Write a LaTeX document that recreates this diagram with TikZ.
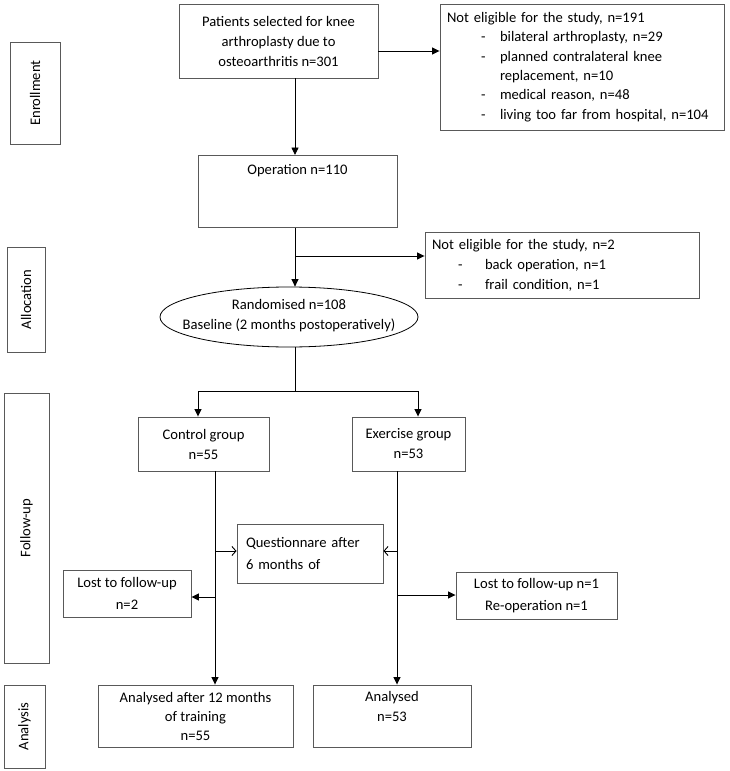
\documentclass[tikz,border=0pt]{standalone}
\usepackage{fontspec}
\setmainfont{Carlito}
\usetikzlibrary{arrows.meta,shapes.geometric}
\begin{document}
\begin{tikzpicture}[x=1pt,y=-1pt,
  every node/.style={font=\fontsize{14.6}{20}\selectfont},
  box/.style={draw=black!65,line width=0.9pt,inner sep=0pt,align=center},
  side/.style={box,rotate=90},
  arr/.style={line width=0.9pt,-{Triangle[length=7.5pt,width=7pt]}},
  oarr/.style={line width=0.9pt,-{Straight Barb[length=4pt,width=9pt,line width=0.9pt]}},
  ln/.style={line width=0.9pt}]
\useasboundingbox (0,0) rectangle (729,771);
\fill[white] (0,0) rectangle (729,771);
% side labels
\node[side,minimum width=102pt,minimum height=50pt] (enr) at (35,93) {Enrollment};
\node[side,minimum width=105pt,minimum height=38pt] (all) at (26,299.5) {Allocation};
\node[side,minimum width=270pt,minimum height=45pt] (fol) at (26.5,528) {Follow-up};
\node[side,minimum width=83pt,minimum height=41pt] (ana) at (24.5,726.5) {Analysis};
% main boxes
\node[box,minimum width=199pt,minimum height=74pt] (pat) at (278.5,41) {Patients selected for knee\\arthroplasty due to\\osteoarthritis n=301};
\node[box,minimum width=284pt,minimum height=126pt,text width=270pt,align=left,inner xsep=7pt,font=\fontsize{14.6}{19.4}\selectfont] (ne1) at (582,67) {Not eligible for the study, n=191\\
\hspace*{34pt}\makebox[19pt][l]{-}bilateral arthroplasty, n=29\\
\hspace*{34pt}\makebox[19pt][l]{-}planned contralateral knee\\
\hspace*{53pt}replacement, n=10\\
\hspace*{34pt}\makebox[19pt][l]{-}medical reason, n=48\\
\hspace*{34pt}\makebox[19pt][l]{-}living too far from hospital, n=104};
\node[box,minimum width=199pt,minimum height=72pt,anchor=north] (op) at (297.5,155) {};
\node[anchor=north,inner sep=0pt] (optx) at (297.5,164) {Operation n=110};
\node[box,minimum width=274pt,minimum height=66pt,text width=260pt,align=left,inner xsep=7pt] (ne2) at (562,265) {Not eligible for the study, n=2\\
\hspace*{26pt}\makebox[27pt][l]{-}back operation, n=1\\
\hspace*{26pt}\makebox[27pt][l]{-}frail condition, n=1};
\node[ellipse,draw=black,line width=0.8pt,minimum width=258pt,minimum height=60pt,inner sep=0pt] (ell) at (289,317) {};
\node[align=center,inner sep=0pt] (elltx) at (289,316) {Randomised n=108\\Baseline (2 months postoperatively)};
\node[box,minimum width=131pt,minimum height=54pt] (ctrl) at (203.5,444) {Control group\\n=55};
\node[box,minimum width=113pt,minimum height=54pt] (exg) at (408.5,444) {Exercise group\\n=53};
\node[box,minimum width=146pt,minimum height=59pt,text width=128pt,align=left,inner xsep=9pt,font=\fontsize{14.6}{22}\selectfont] (q) at (310,553.5) {Questionnare after\\6 months of};
\node[box,minimum width=128pt,minimum height=47pt,font=\fontsize{14.6}{22}\selectfont] (l1) at (127,593.5) {Lost to follow-up\\n=2};
\node[box,minimum width=161pt,minimum height=47pt,font=\fontsize{14.6}{22}\selectfont] (l2) at (536.5,595.5) {Lost to follow-up n=1\\Re-operation n=1};
\node[box,minimum width=195pt,minimum height=62pt,font=\fontsize{14.6}{19}\selectfont] (an1) at (195.5,716) {Analysed after 12 months\\of training\\n=55};
\node[box,minimum width=158pt,minimum height=62pt,font=\fontsize{14.6}{20}\selectfont] (an2) at (392,716) {Analysed\\n=53\\\mbox{}};
% coordinates
\coordinate (mx) at (295,0);
\coordinate (b1) at (295,256);
\coordinate (sp) at (295,391);
\coordinate (ca) at (198,391);
\coordinate (ea) at (418,391);
\coordinate (cx) at (215,0);
\coordinate (ex) at (397,0);
% connectors
\draw[arr] (pat.east |- 0,51) -- (ne1.west |- 0,51);
\draw[arr] (pat.south -| mx) -- (op.north -| mx);
\draw[arr] (op.south -| mx) -- (ell.north -| mx);
\draw[arr] (b1) -- (b1 -| ne2.west);
\draw[ln] (ell.south -| mx) -- (sp);
\draw[ln] (ca) -- (ea);
\draw[arr] (ca) -- (ca |- ctrl.north);
\draw[arr] (ea) -- (ea |- exg.north);
\draw[arr] (ctrl.south -| cx) -- (an1.north -| cx);
\draw[arr] (exg.south -| ex) -- (an2.north -| ex);
\draw[oarr] (cx |- 0,551) -- (q.west |- 0,551);
\draw[oarr] (ex |- 0,551) -- (q.east |- 0,551);
\draw[arr] (cx |- 0,597) -- (l1.east |- 0,597);
\draw[arr] (ex |- 0,595) -- (l2.west |- 0,595);
\end{tikzpicture}
\end{document}
